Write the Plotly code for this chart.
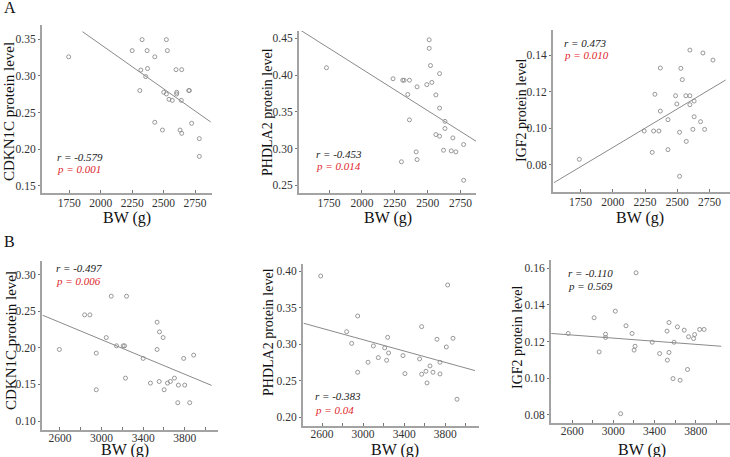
import plotly.graph_objects as go

W, H = 730, 457

# ---------------- data ----------------
# Panel A1: CDKN1C vs BW
a1_bw = [1745, 2250, 2329, 2369, 2530, 2522, 2430, 2319, 2372, 2358, 2311, 2501, 2522,
         2543, 2569, 2604, 2604, 2644, 2599, 2641, 2700, 2705, 2430, 2491, 2631, 2644,
         2723, 2784, 2784]
a1_lv = [0.326, 0.3345, 0.3495, 0.3345, 0.3345, 0.3495, 0.326, 0.308, 0.310, 0.299, 0.280,
         0.2776, 0.2753, 0.268, 0.2666, 0.2753, 0.2776, 0.3085, 0.3085, 0.2666, 0.280,
         0.280, 0.2366, 0.226, 0.226, 0.2215, 0.2352, 0.2143, 0.190]
a1_fit_x = [1855, 2875]
a1_fit_y = [0.3604, 0.237]

# Panel A2: PHDLA2 vs BW
a2_bw = [1730, 2236, 2310, 2320, 2361, 2348, 2361, 2419, 2493, 2511, 2511, 2521, 2531,
         2590, 2562, 2590, 2631, 2631, 2562, 2590, 2691, 2773, 2412, 2300, 2419, 2620,
         2679, 2714, 2773]
a2_lv = [0.410, 0.395, 0.393, 0.393, 0.393, 0.3736, 0.339, 0.384, 0.387, 0.448, 0.4364,
         0.413, 0.390, 0.402, 0.373, 0.355, 0.337, 0.3273, 0.319, 0.3168, 0.3145, 0.3055,
         0.2955, 0.282, 0.285, 0.2977, 0.2968, 0.2955, 0.2568]
a2_fit_x = [1534, 2867]
a2_fit_y = [0.4609, 0.310]

# Panel A3: IGF2 vs BW
a3_bw = [1740, 2243, 2316, 2357, 2326, 2368, 2368, 2305, 2427, 2427, 2486, 2496, 2517,
         2517, 2527, 2538, 2566, 2597, 2597, 2569, 2597, 2630, 2630, 2620, 2680, 2711,
         2698, 2776]
a3_lv = [0.0831, 0.0986, 0.0986, 0.0986, 0.1187, 0.1331, 0.1095, 0.0869, 0.1048, 0.0884,
         0.1179, 0.1134, 0.0979, 0.0738, 0.1329, 0.1267, 0.1179, 0.1179, 0.113, 0.0929,
         0.1429, 0.115, 0.1064, 0.0995, 0.1037, 0.0995, 0.1413, 0.1374]
a3_fit_x = [1543, 2874]
a3_fit_y = [0.0703, 0.1265]

# Panel B1: CDKN1C vs BW
b1_bw = [2594, 2837, 2888, 2949, 2949, 3045, 3093, 3144, 3208, 3221, 3240, 3230, 3400,
         3470, 3534, 3534, 3557, 3554, 3592, 3602, 3634, 3662, 3701, 3739, 3733, 3790,
         3800, 3848, 3886]
b1_lv = [0.1977, 0.245, 0.245, 0.1927, 0.1427, 0.214, 0.2705, 0.2027, 0.2027, 0.2027,
         0.2705, 0.1586, 0.1855, 0.1518, 0.235, 0.1977, 0.2218, 0.154, 0.214, 0.1427,
         0.1518, 0.154, 0.1586, 0.149, 0.125, 0.1855, 0.149, 0.125, 0.19]
b1_fit_x = [2434, 4059]
b1_fit_y = [0.2445, 0.1486]

# Panel B2: PHDLA2 vs BW
b2_bw = [2587, 2840, 2889, 2947, 2947, 3100, 3048, 3148, 3210, 3229, 3239, 3248, 3388,
         3407, 3550, 3570, 3570, 3612, 3622, 3651, 3680, 3719, 3748, 3748, 3810, 3823,
         3875, 3914]
b2_lv = [0.3932, 0.317, 0.301, 0.3385, 0.2615, 0.2975, 0.2752, 0.2815, 0.2948, 0.2779,
         0.3093, 0.2879, 0.2843, 0.2597, 0.2797, 0.3239, 0.2588, 0.2629, 0.2469, 0.2702,
         0.2615, 0.3066, 0.2752, 0.2592, 0.2961, 0.3809, 0.308, 0.2246]
b2_fit_x = [2422, 4089]
b2_fit_y = [0.3285, 0.2638]

# Panel B3: IGF2 vs BW
b3_bw = [2561, 2813, 2862, 2924, 2924, 3019, 3071, 3123, 3182, 3202, 3211, 3221, 3378,
         3450, 3525, 3522, 3541, 3541, 3580, 3590, 3623, 3649, 3689, 3721, 3731, 3780,
         3790, 3839, 3882]
b3_lv = [0.1244, 0.133, 0.1143, 0.124, 0.1222, 0.1366, 0.0805, 0.1286, 0.1244, 0.1153,
         0.1174, 0.1576, 0.1196, 0.1134, 0.1098, 0.1257, 0.1304, 0.114, 0.0997, 0.1196,
         0.128, 0.0988, 0.1262, 0.1047, 0.1226, 0.1216, 0.1238, 0.1266, 0.1266]
b3_fit_x = [2397, 4049]
b3_fit_y = [0.1244, 0.1174]

# Statistics text
r_texts = ["r = -0.579", "r = -0.453", "r = 0.473", "r = -0.497", "r = -0.383", "r = -0.110"]
p_texts = ["p = 0.001", "p = 0.014", "p = 0.010", "p = 0.006", "p = 0.04", "p = 0.569"]
p_significant = [True, True, True, True, True, False]

y_titles = ["CDKN1C protein level", "PHDLA2 protein level", "IGF2 protein level",
            "CDKN1C protein level", "PHDLA2 protein level", "IGF2 protein level"]
x_title = "BW (g)"

xticks_a = [1750, 2000, 2250, 2500, 2750]
xticks_b = [2600, 2800, 3000, 3200, 3400, 3600, 3800, 4000]
xlabels_b = ["2600", "", "3000", "", "3400", "", "3800", ""]
yticks = [
    [0.15, 0.20, 0.25, 0.30, 0.35],
    [0.25, 0.30, 0.35, 0.40, 0.45],
    [0.08, 0.10, 0.12, 0.14],
    [0.10, 0.15, 0.20, 0.25, 0.30],
    [0.20, 0.25, 0.30, 0.35, 0.40],
    [0.08, 0.10, 0.12, 0.14, 0.16],
]

# ---------------- layout geometry (pixels) ----------------
SERIF = "Liberation Serif"
AXIS_COL = "#a3a3a3"
MARK_COL = "#8c8c8c"
RED = "#e0262b"

geom = [
    dict(px=(42, 212), py=(25, 193), xr=[1533, 2885], yr=[0.14, 0.3695], txt=(55, 157, 169),
         yt=(9, 112), xt=(127, 218)),
    dict(px=(299, 476), py=(31, 193), xr=[1521, 2867], yr=[0.2395, 0.46], txt=(314, 154, 166),
         yt=(268, 112), xt=(388, 218)),
    dict(px=(553, 730), py=(30, 192), xr=[1536, 2908], yr=[0.0652, 0.1539], txt=(562, 43, 55),
         yt=(521, 110), xt=(640, 218)),
    dict(px=(42, 218), py=(261, 430), xr=[2427, 4120], yr=[0.0877, 0.3186], txt=(54, 268, 281),
         yt=(11, 341), xt=(125, 450)),
    dict(px=(303, 479), py=(264, 426), xr=[2415, 4128], yr=[0.188, 0.4096], txt=(313, 396, 410),
         yt=(268, 332), xt=(395, 450)),
    dict(px=(551, 730), py=(260, 423), xr=[2394, 4134], yr=[0.0754, 0.1646], txt=(566, 273, 286),
         yt=(517, 337), xt=(642, 450)),
]

series = [
    (a1_bw, a1_lv, a1_fit_x, a1_fit_y),
    (a2_bw, a2_lv, a2_fit_x, a2_fit_y),
    (a3_bw, a3_lv, a3_fit_x, a3_fit_y),
    (b1_bw, b1_lv, b1_fit_x, b1_fit_y),
    (b2_bw, b2_lv, b2_fit_x, b2_fit_y),
    (b3_bw, b3_lv, b3_fit_x, b3_fit_y),
]


def fx(p):
    return p / W


def fy(p):
    return 1 - p / H


fig = go.Figure()
annotations = []
layout_axes = {}

for i, (g, (bw, lv, fitx, fity)) in enumerate(zip(geom, series)):
    n = i + 1
    xa = "x" if n == 1 else f"x{n}"
    ya = "y" if n == 1 else f"y{n}"
    fig.add_trace(go.Scatter(
        x=fitx, y=fity, mode="lines", xaxis=xa, yaxis=ya,
        line=dict(color="#8a8a8a", width=1), showlegend=False, hoverinfo="skip"))
    fig.add_trace(go.Scatter(
        x=bw, y=lv, mode="markers", xaxis=xa, yaxis=ya,
        marker=dict(symbol="circle-open", size=4, color=MARK_COL, line=dict(width=0.9, color=MARK_COL)),
        showlegend=False, cliponaxis=False))

    is_a = i < 3
    xaxis = dict(
        domain=[fx(g["px"][0]), fx(g["px"][1])], range=g["xr"], anchor=ya,
        showgrid=False, zeroline=False, showline=True, linecolor=AXIS_COL, linewidth=2,
        ticks="inside", ticklen=3, tickwidth=1, tickcolor="#777",
        tickvals=xticks_a if is_a else xticks_b,
        ticktext=[str(v) for v in xticks_a] if is_a else xlabels_b,
        tickfont=dict(family=SERIF, size=11.5, color="#333"),
        ticklabelstandoff=-2 if is_a else -4,
    )
    yaxis = dict(
        domain=[fy(g["py"][1]), fy(g["py"][0])], range=g["yr"], anchor=xa,
        showgrid=False, zeroline=False, showline=True, linecolor=AXIS_COL, linewidth=2,
        ticks="outside", ticklen=2, tickwidth=1, tickcolor="#777",
        tickvals=yticks[i], tickformat=".2f",
        tickfont=dict(family=SERIF, size=11.5, color="#333"),
    )
    layout_axes["xaxis" if n == 1 else f"xaxis{n}"] = xaxis
    layout_axes["yaxis" if n == 1 else f"yaxis{n}"] = yaxis

    tx, tyr, typ = g["txt"]
    annotations.append(dict(
        x=fx(tx), y=fy(tyr), xref="paper", yref="paper", xanchor="left", yanchor="middle",
        text=f"<i>{r_texts[i]}</i>", showarrow=False,
        font=dict(family=SERIF, size=11, color="#222")))
    annotations.append(dict(
        x=fx(tx), y=fy(typ), xref="paper", yref="paper", xanchor="left", yanchor="middle",
        text=f"<i>{p_texts[i]}</i>", showarrow=False,
        font=dict(family=SERIF, size=11, color=RED if p_significant[i] else "#222")))
    annotations.append(dict(
        x=fx(g["yt"][0]), y=fy(g["yt"][1]), xref="paper", yref="paper",
        xanchor="center", yanchor="middle", textangle=-90,
        text=y_titles[i], showarrow=False,
        font=dict(family=SERIF, size=15 if i in (0, 3) else 14, color="#111")))
    annotations.append(dict(
        x=fx(g["xt"][0]), y=fy(g["xt"][1]), xref="paper", yref="paper",
        xanchor="center", yanchor="middle",
        text=x_title, showarrow=False,
        font=dict(family=SERIF, size=16, color="#111")))

annotations.append(dict(x=fx(2), y=fy(8), xref="paper", yref="paper", xanchor="left",
                        yanchor="middle", text="A", showarrow=False,
                        font=dict(family=SERIF, size=16, color="#111")))
annotations.append(dict(x=fx(2), y=fy(241), xref="paper", yref="paper", xanchor="left",
                        yanchor="middle", text="B", showarrow=False,
                        font=dict(family=SERIF, size=16, color="#111")))

fig.update_layout(
    width=W, height=H, margin=dict(l=0, r=0, t=0, b=0),
    paper_bgcolor="white", plot_bgcolor="white",
    font=dict(family=SERIF),
    annotations=annotations, **layout_axes)

fig.write_html("out.html", config={"displayModeBar": False},
               post_script="document.body.style.margin='0';document.body.style.padding='0';"
                           "document.documentElement.style.overflow='hidden';")
